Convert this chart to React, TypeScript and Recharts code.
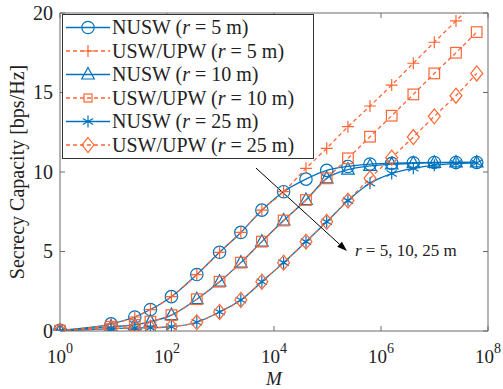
import React from 'react';
import { LineChart, Line, XAxis, YAxis, Legend, ReferenceLine, Label } from 'recharts';

// antenna count M (x axis, log scale)
const mValues = [1, 9, 25, 49, 121, 361, 961, 2401, 5929, 15129, 39601, 96721, 241081, 622521, 1585081, 4020025, 9916201, 25210441, 61528336];

// secrecy capacity [bps/Hz]
const nusw5 = [0.05, 0.45, 0.88, 1.35, 2.16, 3.55, 4.95, 6.2, 7.6, 8.76, 9.55, 10.1, 10.35, 10.5, 10.55, 10.58, 10.6, 10.6, 10.6];
const usw5 = [0.05, 0.45, 0.88, 1.35, 2.16, 3.55, 4.95, 6.2, 7.6, 8.76, 10.23, 11.49, 12.85, 14.15, 15.47, 16.84, 18.16, 19.5, 20.8];
const nusw10 = [0.02, 0.27, 0.38, 0.59, 1.0, 2.0, 3.1, 4.3, 5.62, 6.95, 8.24, 9.6, 10.15, 10.38, 10.48, 10.55, 10.58, 10.6, 10.6];
const usw10 = [0.02, 0.27, 0.38, 0.59, 1.0, 2.0, 3.1, 4.3, 5.62, 6.95, 8.24, 9.6, 10.86, 12.22, 13.54, 14.88, 16.2, 17.5, 18.8];
const nusw25 = [0.0, 0.15, 0.2, 0.2, 0.27, 0.55, 1.2, 1.95, 3.1, 4.3, 5.62, 6.87, 8.2, 9.29, 9.9, 10.23, 10.43, 10.53, 10.57];
const usw25 = [0.0, 0.15, 0.2, 0.2, 0.27, 0.55, 1.2, 1.95, 3.1, 4.3, 5.62, 6.87, 8.2, 9.6, 10.9, 12.2, 13.5, 14.8, 16.2];

const xTicks = [1, 1e2, 1e4, 1e6, 1e8];
const yTicks = [0, 5, 10, 15, 20];

// annotation arrow (data coords)
const arrowFrom = { x: 4600, y: 10.25 };
const arrowTo = { x: 231000, y: 5.03 };

const BLUE = '#0072BD';
const ORANGE = '#FF6633';
const AXIS = '#6b6b6b';
const TEXT = '#222';
const FONT = "'Liberation Serif', 'Times New Roman', serif";

const series = [
  { key: 'nusw5', values: nusw5, label: 'NUSW', r: '5', color: BLUE, dashed: false, shape: 'circle' },
  { key: 'usw5', values: usw5, label: 'USW/UPW', r: '5', color: ORANGE, dashed: true, shape: 'plus' },
  { key: 'nusw10', values: nusw10, label: 'NUSW', r: '10', color: BLUE, dashed: false, shape: 'triangle' },
  { key: 'usw10', values: usw10, label: 'USW/UPW', r: '10', color: ORANGE, dashed: true, shape: 'square' },
  { key: 'nusw25', values: nusw25, label: 'NUSW', r: '25', color: BLUE, dashed: false, shape: 'star' },
  { key: 'usw25', values: usw25, label: 'USW/UPW', r: '25', color: ORANGE, dashed: true, shape: 'diamond' },
];

const data = mValues.map((M, i) => {
  const row: Record<string, number> = { M };
  series.forEach((s) => (row[s.key] = s.values[i]));
  return row;
});

function Marker({ shape, cx, cy, color, small }: { shape: string; cx: number; cy: number; color: string; small?: boolean }) {
  const sw = 1.2;
  const common = { fill: 'none', stroke: color, strokeWidth: sw };
  switch (shape) {
    case 'circle':
      return <circle cx={cx} cy={cy} r={6.2} {...common} />;
    case 'plus':
      return <path d={`M${cx - 6},${cy}H${cx + 6}M${cx},${cy - 6}V${cy + 6}`} {...common} />;
    case 'triangle':
      return <path d={`M${cx},${cy - 7}L${cx + 6.3},${cy + 4.5}L${cx - 6.3},${cy + 4.5}Z`} {...common} />;
    case 'square': {
      const h = small ? 4 : 5.3;
      return <rect x={cx - h} y={cy - h} width={2 * h} height={2 * h} {...common} />;
    }
    case 'star': {
      const a = 6, dx = 5.2, dy = 3;
      return (
        <path
          d={`M${cx},${cy - a}V${cy + a}M${cx - dx},${cy - dy}L${cx + dx},${cy + dy}M${cx - dx},${cy + dy}L${cx + dx},${cy - dy}`}
          {...common}
        />
      );
    }
    case 'diamond':
      return <path d={`M${cx},${cy - 7.5}L${cx + 6},${cy}L${cx},${cy + 7.5}L${cx - 6},${cy}Z`} {...common} />;
    default:
      return null;
  }
}

const XTickBottom = (props: any) => {
  const { x, y, payload } = props;
  const exp = Math.round(Math.log10(payload.value));
  return (
    <g>
      <line x1={x} y1={y} x2={x} y2={y - 5} stroke={AXIS} />
      <text x={x} y={y + 32} textAnchor="middle" style={{ fontFamily: FONT }} fontSize={19} fill={TEXT}>
        10<tspan dy={-10} fontSize={14}>{exp}</tspan>
      </text>
    </g>
  );
};

const XTickTop = (props: any) => {
  const { x, y } = props;
  return <line x1={x} y1={y} x2={x} y2={y + 5} stroke={AXIS} />;
};

const YTickLeft = (props: any) => {
  const { x, y, payload } = props;
  return (
    <g>
      <line x1={x} y1={y} x2={x + 5} y2={y} stroke={AXIS} />
      <text x={x - 7} y={y + 6.5} textAnchor="end" style={{ fontFamily: FONT }} fontSize={20} fill={TEXT}>
        {payload.value}
      </text>
    </g>
  );
};

const YTickRight = (props: any) => {
  const { x, y } = props;
  return <line x1={x} y1={y} x2={x - 5} y2={y} stroke={AXIS} />;
};

const LegendBox = () => (
  <svg width={252} height={145} style={{ display: 'block' }}>
    <rect x={0.5} y={0.5} width={251} height={144} fill="#fff" stroke="#333" strokeWidth={1} />
    {series.map((s, i) => {
      const cy = 13.5 + i * 23.5;
      return (
        <g key={s.key}>
          <line x1={4} y1={cy} x2={48} y2={cy} stroke={s.color} strokeWidth={1.3} strokeDasharray={s.dashed ? '4 3' : undefined} />
          <Marker shape={s.shape} cx={26} cy={cy} color={s.color} small />
          <text x={50} y={cy + 6.5} style={{ fontFamily: FONT }} fontSize={20} fill={TEXT}>
            {s.label} (<tspan fontStyle="italic">r</tspan> = {s.r} m)
          </text>
        </g>
      );
    })}
  </svg>
);

const ArrowShape = (props: any) => {
  const { x1, y1, x2, y2 } = props;
  const ang = Math.atan2(y2 - y1, x2 - x1);
  const L = 10, W = 3.5;
  const bx = x2 - L * Math.cos(ang), by = y2 - L * Math.sin(ang);
  const px = -Math.sin(ang) * W, py = Math.cos(ang) * W;
  return (
    <g>
      <line x1={x1} y1={y1} x2={bx} y2={by} stroke="#000" strokeWidth={1} />
      <path d={`M${x2},${y2}L${bx + px},${by + py}L${bx - px},${by - py}Z`} fill="#000" />
      <text x={x2 + 8} y={y2 + 4.5} style={{ fontFamily: FONT }} fontSize={17} fill={TEXT}>
        <tspan fontStyle="italic">r</tspan> = 5, 10, 25 m
      </text>
    </g>
  );
};

export default function App() {
  return (
    <div style={{ position: 'absolute', left: 0, top: 0 }}>
      <LineChart width={503} height={389} data={data} margin={{ top: 8, right: 10, bottom: 28, left: 10 }}>
        <XAxis
          dataKey="M"
          type="number"
          scale="log"
          domain={[1, 1e8]}
          ticks={xTicks}
          interval={0}
          height={30}
          tickSize={0}
          tickMargin={0}
          axisLine={{ stroke: AXIS }}
          tick={<XTickBottom />}
        >
          <Label
            content={(p: any) => {
              const vb = p.viewBox;
              return (
                <text x={vb.x + vb.width / 2} y={vb.y + 53.5} textAnchor="middle" style={{ fontFamily: FONT }} fontSize={19} fontStyle="italic" fill={TEXT}>
                  M
                </text>
              );
            }}
          />
        </XAxis>
        <XAxis
          xAxisId="top"
          orientation="top"
          dataKey="M"
          type="number"
          scale="log"
          domain={[1, 1e8]}
          ticks={xTicks}
          interval={0}
          height={5}
          tickSize={0}
          tickMargin={0}
          axisLine={{ stroke: AXIS }}
          tick={<XTickTop />}
        />
        <YAxis
          type="number"
          domain={[0, 20]}
          ticks={yTicks}
          interval={0}
          allowDataOverflow
          width={50}
          tickSize={0}
          tickMargin={0}
          axisLine={{ stroke: AXIS }}
          tick={<YTickLeft />}
        >
          <Label
            content={(p: any) => {
              const vb = p.viewBox;
              const cx = vb.x + 14;
              const cy = vb.y + vb.height / 2;
              return (
                <text x={cx} y={cy} transform={`rotate(-90, ${cx}, ${cy})`} textAnchor="middle" style={{ fontFamily: FONT }} fontSize={20} fill={TEXT}>
                  Secrecy Capacity [bps/Hz]
                </text>
              );
            }}
          />
        </YAxis>
        <YAxis
          yAxisId="right"
          orientation="right"
          type="number"
          domain={[0, 20]}
          ticks={yTicks}
          interval={0}
          allowDataOverflow
          width={5}
          tickSize={0}
          tickMargin={0}
          axisLine={{ stroke: AXIS }}
          tick={<YTickRight />}
        />
        <Legend
          layout="vertical"
          align="center"
          verticalAlign="middle"
          wrapperStyle={{ left: 62, top: 14, width: 252, height: 145 }}
          content={() => <LegendBox />}
        />
        {series.map((s) => (
          <Line
            key={s.key}
            dataKey={s.key}
            name={`${s.label} (r = ${s.r} m)`}
            type="monotone"
            stroke={s.color}
            strokeWidth={1.3}
            strokeDasharray={s.dashed ? '4 3' : undefined}
            isAnimationActive={false}
            activeDot={false}
            dot={(p: any) =>
              p.cx == null || p.cy == null ? (
                <g key={`${s.key}-${p.index}`} />
              ) : (
                <g key={`${s.key}-${p.index}`}>
                  <Marker shape={s.shape} cx={p.cx} cy={p.cy} color={s.color} />
                </g>
              )
            }
          />
        ))}
        <ReferenceLine segment={[arrowFrom, arrowTo]} shape={<ArrowShape />} ifOverflow="visible" />
      </LineChart>
    </div>
  );
}
